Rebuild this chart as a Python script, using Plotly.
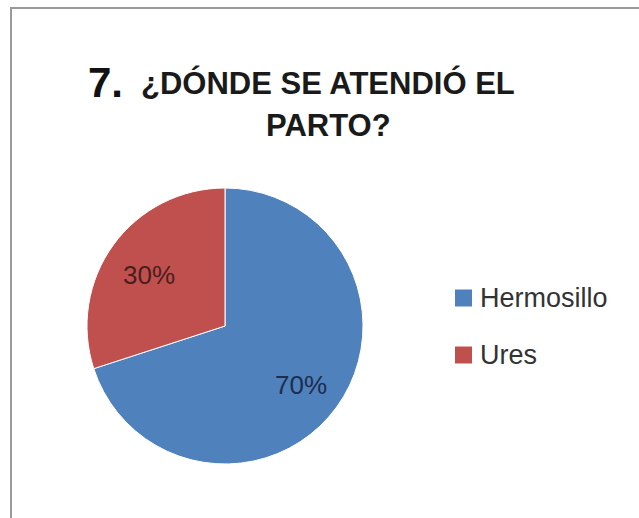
import math
import plotly.graph_objects as go

labels = ["Hermosillo", "Ures"]
values = [70, 30]
colors = ["#4F81BD", "#C0504D"]
label_colors = ["#1e2d4d", "#4a1e1e"]
title_number = "7."
title_line1 = "¿DÓNDE SE ATENDIÓ EL"
title_line2 = "PARTO?"

W, H = 639, 518

def px(x):
    return x / W

def py(y):
    return 1 - y / H

# pie geometry (pixels)
cx, cy0, r = 225, 326, 138

fig = go.Figure()
fig.add_trace(go.Pie(
    labels=labels,
    values=values,
    sort=False,
    direction="clockwise",
    rotation=0,
    marker=dict(colors=colors, line=dict(color="white", width=1)),
    textinfo="none",
    showlegend=False,
    hoverinfo="label+percent",
    domain=dict(x=[px(cx - r), px(cx + r)], y=[py(cy0 + r), py(cy0 - r)]),
))

annotations = [
    dict(text="<b>" + title_number + "</b>", x=px(86), y=py(82), xanchor="left", yanchor="middle",
         font=dict(family="Liberation Sans", size=42, color="#111111")),
    dict(text="<b>" + title_line1 + "</b>", x=px(328), y=py(83), xanchor="center", yanchor="middle",
         font=dict(family="Liberation Sans", size=31, color="#1a1a1a")),
    dict(text="<b>" + title_line2 + "</b>", x=px(328), y=py(126), xanchor="center", yanchor="middle",
         font=dict(family="Liberation Sans", size=31, color="#1a1a1a")),
]

# percentage labels along each slice bisector
total = sum(values)
start = 0.0
for v, lc in zip(values, label_colors):
    frac = v / total
    mid = (start + frac / 2) * 2 * math.pi  # clockwise from 12 o'clock
    lx = cx + 0.68 * r * math.sin(mid)
    ly = cy0 - 0.68 * r * math.cos(mid) + 4
    annotations.append(dict(text=f"{round(frac * 100)}%", x=px(lx), y=py(ly),
                            xanchor="center", yanchor="middle",
                            font=dict(family="Liberation Sans", size=26, color=lc)))
    start += frac

shapes = [
    dict(type="rect", xref="paper", yref="paper", x0=px(11), y0=-0.05, x1=1.05, y1=py(8),
         line=dict(color="#9a9a9a", width=2), fillcolor="rgba(0,0,0,0)", layer="below"),
]

# manual legend
leg_x, leg_y0, leg_dy, sq = 455, 298, 57, 17
for i, (lab, col) in enumerate(zip(labels, colors)):
    yy = leg_y0 + i * leg_dy
    shapes.append(dict(type="rect", xref="paper", yref="paper",
                       x0=px(leg_x), x1=px(leg_x + sq), y0=py(yy + sq / 2), y1=py(yy - sq / 2),
                       fillcolor=col, line=dict(width=0)))
    annotations.append(dict(text=lab, x=px(leg_x + sq + 6), y=py(yy), xanchor="left", yanchor="middle",
                            font=dict(family="Liberation Sans", size=27, color="#333333")))

fig.update_layout(
    width=W, height=H,
    margin=dict(l=0, r=0, t=0, b=0),
    paper_bgcolor="white",
    plot_bgcolor="white",
    annotations=[dict(a, xref="paper", yref="paper", showarrow=False) for a in annotations],
    shapes=shapes,
)

fig.write_html("out.html")
